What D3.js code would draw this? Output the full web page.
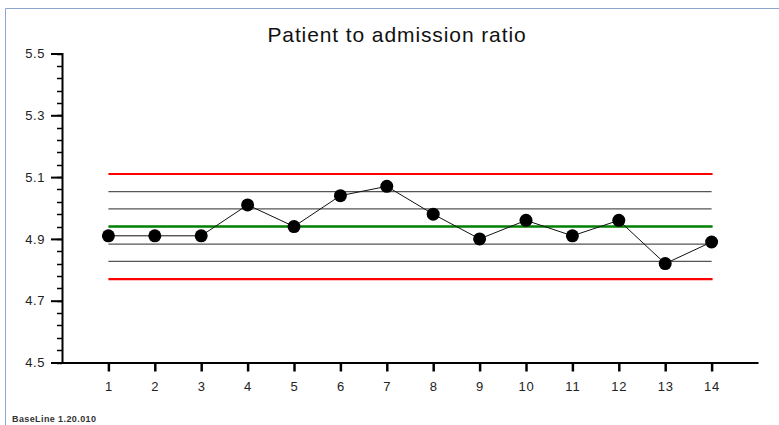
<html>

<head>
  <script src="https://d3js.org/d3.v7.min.js"></script>
  <style>
    body {
      margin: 0;
      background: #fff;
    }

    text {
      font-family: "Liberation Sans", Arial, sans-serif;
    }
  </style>
</head>

<body>
  <svg id="chart" width="779" height="425"></svg>
  <script>
    // observations 1..14
    const samples = [1, 2, 3, 4, 5, 6, 7, 8, 9, 10, 11, 12, 13, 14];
    const ratios = [4.91, 4.91, 4.91, 5.01, 4.94, 5.04, 5.07, 4.98, 4.90, 4.96, 4.91, 4.96, 4.82, 4.89];

    // control limits
    const centre = 4.94;
    const upperLimit = 5.11;
    const lowerLimit = 4.77;
    const sigmaLines = [5.053, 4.997, 4.883, 4.827];

    const yTicks = [4.5, 4.7, 4.9, 5.1, 5.3, 5.5];
    const title = "Patient to admission ratio";
    const footnote = "BaseLine 1.20.010";

    const svg = d3.select("svg#chart");

    const x = d3.scaleLinear().domain([0, 15]).range([62, 758]);
    const y = d3.scaleLinear().domain([4.5, 5.5]).range([362.5, 53.5]);

    // frame
    svg.append("path")
      .attr("d", "M5.5,425 L5.5,8.5 L779,8.5")
      .attr("fill", "none")
      .attr("stroke", "#8ea6cf")
      .attr("stroke-width", 1);

    svg.append("text")
      .attr("x", 397)
      .attr("y", 42)
      .attr("text-anchor", "middle")
      .attr("font-size", "21px")
      .attr("letter-spacing", "0.9px")
      .attr("fill", "#111")
      .text(title);

    // minor ticks on y
    const minor = d3.range(4.5, 5.5001, 0.04);
    svg.append("g").selectAll("line").data(minor)
      .join("line")
      .attr("x1", 57).attr("x2", 62)
      .attr("y1", d => Math.round(y(d)) + 0.5)
      .attr("y2", d => Math.round(y(d)) + 0.5)
      .attr("stroke", "#000")
      .attr("stroke-width", 1.5);

    const leftAxis = d3.axisLeft(y).tickValues(yTicks).tickFormat(d3.format(".1f"))
      .tickSize(11).tickPadding(6);
    const gy = svg.append("g")
      .attr("transform", "translate(62,0)")
      .call(leftAxis);
    gy.select(".domain").attr("stroke-width", 2);
    gy.selectAll(".tick line").attr("stroke-width", 2);
    gy.selectAll("text").attr("font-size", "13px").attr("fill", "#222")
      .attr("letter-spacing", "0.6px")
      .attr("font-family", "'Liberation Sans', Arial, sans-serif");

    const bottomAxis = d3.axisBottom(x).tickValues(samples).tickFormat(d3.format("d"))
      .tickSize(9).tickPadding(10).tickSizeOuter(0);
    const gx = svg.append("g")
      .attr("transform", "translate(0,362.5)")
      .call(bottomAxis);
    gx.select(".domain").attr("stroke-width", 2);
    gx.selectAll(".tick line").attr("stroke-width", 2.5);
    gx.selectAll("text").attr("font-size", "13px").attr("fill", "#222")
      .attr("letter-spacing", "0.8px")
      .attr("font-family", "'Liberation Sans', Arial, sans-serif");

    const x0 = x(samples[0]);
    const x1 = x(samples[samples.length - 1]);

    svg.append("g").selectAll("line").data(sigmaLines)
      .join("line")
      .attr("x1", x0).attr("x2", x1)
      .attr("y1", d => y(d)).attr("y2", d => y(d))
      .attr("stroke", "#555")
      .attr("stroke-width", 1.2);

    svg.append("g").selectAll("line").data([upperLimit, lowerLimit])
      .join("line")
      .attr("x1", x0).attr("x2", x1 + 1)
      .attr("y1", d => y(d)).attr("y2", d => y(d))
      .attr("stroke", "#ff0000")
      .attr("stroke-width", 2.2);

    svg.append("line")
      .attr("x1", x0).attr("x2", x1 + 1)
      .attr("y1", y(centre)).attr("y2", y(centre))
      .attr("stroke", "#008000")
      .attr("stroke-width", 2.5);

    const pts = samples.map((s, i) => [s, ratios[i]]);
    svg.append("path")
      .datum(pts)
      .attr("fill", "none")
      .attr("stroke", "#111")
      .attr("stroke-width", 1)
      .attr("d", d3.line().x(d => x(d[0])).y(d => y(d[1])));

    svg.append("g").selectAll("circle").data(pts)
      .join("circle")
      .attr("cx", d => x(d[0]))
      .attr("cy", d => y(d[1]))
      .attr("r", 6.5)
      .attr("fill", "#000");

    svg.append("text")
      .attr("x", 12)
      .attr("y", 422)
      .attr("font-size", "9px")
      .attr("font-weight", "bold")
      .attr("letter-spacing", "0.4px")
      .attr("fill", "#333")
      .text(footnote);
  </script>
</body>

</html>
